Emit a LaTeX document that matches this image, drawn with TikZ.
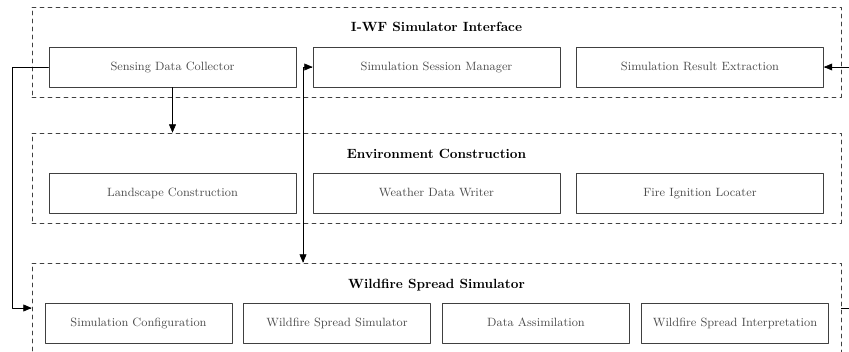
\documentclass[tikz,border=0pt]{standalone}
\usepackage{tikz}
\usetikzlibrary{arrows}
\definecolor{ggtext}{rgb}{0.3,0.3,0.3}
\definecolor{ggline}{rgb}{0.25,0.25,0.25}
\tikzset{
  group/.style={draw=ggline,dashed,line width=0.5pt,minimum width=606.75pt,minimum height=67.5pt,inner sep=0pt},
  grouptitle/.style={font=\bfseries,text=black,text height=1.6ex,text depth=0.4ex},
  modbig/.style={draw=ggline,line width=0.6pt,text=ggtext,font=\small,text height=1.6ex,text depth=0.4ex,minimum width=185.25pt,minimum height=30pt,inner sep=0pt},
  modsmall/.style={modbig,minimum width=140.25pt}
}

\begin{document}
\begin{tikzpicture}[line cap=round,line join=round,>=triangle 45,x=0.75pt,y=-0.75pt]
\useasboundingbox (0,0) rectangle (849,352);
\clip (0,0) rectangle (849,352);
% groups
\node[group] (grpif) at (436.5,52) {};
\node[group] (grpenv) at (436.5,178) {};
\node[group] (grpsim) at (436.5,308) {};
\node[grouptitle] (ttlif) at (436.5,28) {I-WF Simulator Interface};
\node[grouptitle] (ttlenv) at (436.5,155) {Environment Construction};
\node[grouptitle] (ttlsim) at (436.5,285) {Wildfire Spread Simulator};
% interface modules
\node[modbig] (sdc) at (172.5,67) {Sensing Data Collector};
\node[modbig] (ssm) at (436.5,67) {Simulation Session Manager};
\node[modbig] (sre) at (700,67) {Simulation Result Extraction};
% environment modules
\node[modbig] (lsc) at (172.5,193) {Landscape Construction};
\node[modbig] (wdw) at (436.5,193) {Weather Data Writer};
\node[modbig] (fil) at (700,193) {Fire Ignition Locater};
% simulator modules
\node[modsmall] (scf) at (138.5,323) {Simulation Configuration};
\node[modsmall] (wss) at (337,323) {Wildfire Spread Simulator};
\node[modsmall] (das) at (536,323) {Data Assimilation};
\node[modsmall] (wsi) at (735,323) {Wildfire Spread Interpretation};
% connectors
\coordinate (lbend) at (12,67);
\coordinate (mbend) at (303,67);
\coordinate (rin) at (855,67);
\coordinate (rout) at (855,308);
\draw[->] (rin) -- (sre);
\draw[->] (sdc.west) -- (lbend) |- (grpsim.west);
\draw[->] (sdc.south) -- (sdc.south |- grpenv.north);
\draw[<->] (ssm.west) -- (mbend) -- (mbend |- grpsim.north);
\draw (grpsim.east) -- (rout);
\end{tikzpicture}
\end{document}
